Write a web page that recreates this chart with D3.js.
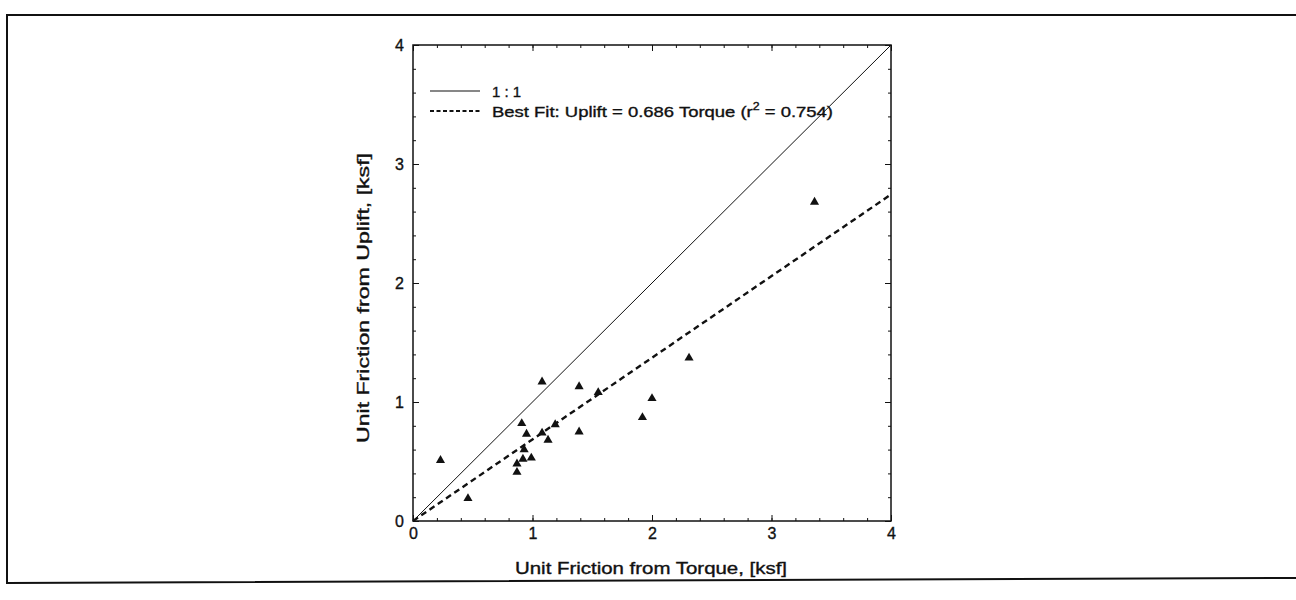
<html>
<head>
  <script type="text/javascript" src="https://d3js.org/d3.v7.min.js"></script>
  <style>
      body { margin: 0; background: #fff; }
      text { font-family: Arial, "Liberation Sans", Helvetica, sans-serif; fill: #111;
             stroke: #111; stroke-width: 0.35px; }
  </style>
</head>
<body>
<div id="chart"></div>
<script>
    // values (ksf)
    let torque = [0.23, 0.46, 0.87, 0.87, 0.92, 0.93, 0.99, 0.91, 0.95, 1.08, 1.13, 1.19, 1.08, 1.39, 1.39, 1.55, 1.92, 2.00, 2.31, 3.36];
    let uplift = [0.51, 0.19, 0.41, 0.48, 0.52, 0.60, 0.53, 0.82, 0.73, 0.74, 0.68, 0.81, 1.17, 1.13, 0.75, 1.08, 0.87, 1.03, 1.37, 2.68];
    let majorTicks = [0, 1, 2, 3, 4];
    let minorTicks = d3.range(0, 4.001, 0.2);
    let slope = 0.686;
    let legendLabels = ["1 : 1", "Best Fit: Uplift = 0.686 Torque (r", "2", " = 0.754)"];

    let width = 1296, height = 600;
    let margin = {top: 45, left: 413};
    let CHART_WIDTH = 478, CHART_HEIGHT = 476;

    const svg = d3.select('#chart').append('svg')
        .attr('width', width).attr('height', height);

    // page frame from the scanned report
    svg.append('path')
        .attr('d', 'M1300,15 L7,15 L7,583 L1300,578')
        .attr('fill', 'none').attr('stroke', '#111').attr('stroke-width', 2);

    const xScale = d3.scaleLinear().domain([0, 4]).range([0, CHART_WIDTH]);
    const yScale = d3.scaleLinear().domain([0, 4]).range([CHART_HEIGHT, 0]);

    const g = svg.append('g')
        .attr('transform', `translate(${margin.left}, ${margin.top})`);

    g.append('rect')
        .attr('width', CHART_WIDTH).attr('height', CHART_HEIGHT)
        .attr('fill', 'none').attr('stroke', '#111').attr('stroke-width', 1.5);

    // minor ticks on all four sides, pointing in
    function minor(axis, tr) {
        g.append('g').attr('transform', tr)
            .call(axis.tickValues(minorTicks).tickSize(-3).tickFormat(''))
            .call(a => a.select('.domain').remove());
    }
    minor(d3.axisBottom(xScale), `translate(0,${CHART_HEIGHT})`);
    minor(d3.axisTop(xScale), 'translate(0,0)');
    minor(d3.axisLeft(yScale), 'translate(0,0)');
    minor(d3.axisRight(yScale), `translate(${CHART_WIDTH},0)`);

    // major ticks + labels
    g.append('g').attr('transform', `translate(0,${CHART_HEIGHT})`)
        .call(d3.axisBottom(xScale).tickValues(majorTicks).tickSize(-6).tickPadding(6).tickFormat(d3.format('d')))
        .call(a => a.select('.domain').remove())
        .selectAll('text').attr('font-size', 16).attr('dy', '0.75em');
    g.append('g')
        .call(d3.axisLeft(yScale).tickValues(majorTicks).tickSize(-6).tickPadding(9).tickFormat(d3.format('d')))
        .call(a => a.select('.domain').remove())
        .selectAll('text').attr('font-size', 16);
    g.append('g').attr('transform', `translate(${CHART_WIDTH},0)`)
        .call(d3.axisRight(yScale).tickValues(majorTicks).tickSize(-6).tickFormat(''))
        .call(a => a.select('.domain').remove());
    g.append('g')
        .call(d3.axisTop(xScale).tickValues(majorTicks).tickSize(-6).tickFormat(''))
        .call(a => a.select('.domain').remove());
    g.selectAll('.tick line').attr('stroke', '#111');

    // 1:1 line and best fit
    const line = d3.line().x(d => xScale(d[0])).y(d => yScale(d[1]));
    g.append('path').datum([[0, 0], [4, 4]]).attr('d', line)
        .attr('fill', 'none').attr('stroke', '#111').attr('stroke-width', 1);
    g.append('path').datum([[0, 0], [4, 4 * slope]]).attr('d', line)
        .attr('fill', 'none').attr('stroke', '#111').attr('stroke-width', 2.4)
        .attr('stroke-dasharray', '6,4');

    // data points
    g.selectAll('.pt')
        .data(torque.map((t, i) => [t, uplift[i]]))
        .enter().append('path')
        .attr('class', 'pt')
        .attr('transform', d => `translate(${xScale(d[0])},${yScale(d[1])})`)
        .attr('d', d3.symbol(d3.symbolTriangle, 36))
        .attr('fill', '#111');

    // legend
    const leg = g.append('g').attr('transform', 'translate(17,46)');
    leg.append('line').attr('x1', 0).attr('x2', 50).attr('y1', 0).attr('y2', 0)
        .attr('stroke', '#111').attr('stroke-width', 1.2);
    leg.append('text').attr('x', 62).attr('y', 6).attr('font-size', 15).text(legendLabels[0]);
    leg.append('line').attr('x1', 0).attr('x2', 50).attr('y1', 20).attr('y2', 20)
        .attr('stroke', '#111').attr('stroke-width', 2).attr('stroke-dasharray', '4,2.5');
    const bf = leg.append('text').attr('x', 62).attr('y', 26).attr('font-size', 15)
        .attr('textLength', 341).attr('lengthAdjust', 'spacingAndGlyphs');
    bf.append('tspan').text(legendLabels[1]);
    bf.append('tspan').attr('font-size', 10).attr('dy', -7).text(legendLabels[2]);
    bf.append('tspan').attr('dy', 7).text(legendLabels[3]);

    // axis titles
    svg.append('text')
        .attr('x', 651).attr('y', 574).attr('text-anchor', 'middle')
        .attr('font-size', 16).attr('textLength', 272).attr('lengthAdjust', 'spacingAndGlyphs')
        .text('Unit Friction from Torque, [ksf]');
    svg.append('text')
        .attr('transform', 'translate(369,298) rotate(-90)')
        .attr('text-anchor', 'middle')
        .attr('font-size', 16).attr('textLength', 290).attr('lengthAdjust', 'spacingAndGlyphs')
        .text('Unit Friction from Uplift, [ksf]');
</script>
</body>
</html>
